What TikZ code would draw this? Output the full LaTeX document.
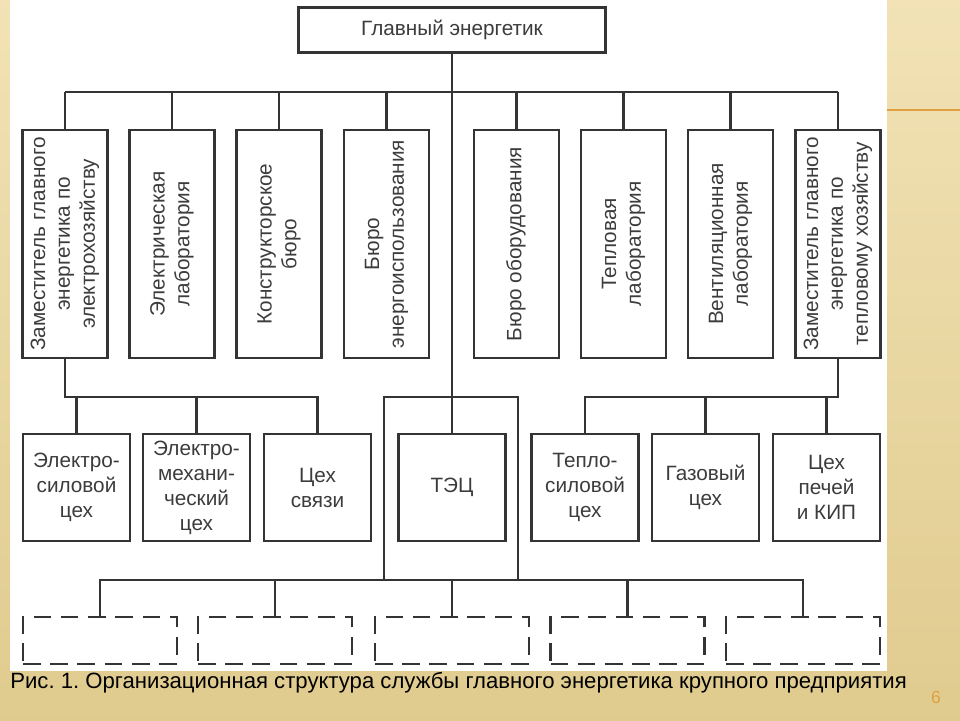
\documentclass[tikz,border=0pt]{standalone}
\usepackage{fontspec}
\setmainfont{Liberation Sans}
\usepackage{graphicx}
\usepackage{tikz}
\usetikzlibrary{calc}
\frenchspacing
\definecolor{bgc}{RGB}{236,214,150}
\definecolor{linec}{RGB}{52,52,52}
\definecolor{textc}{RGB}{60,60,60}
\definecolor{orc}{RGB}{224,160,64}
\newcommand{\vlines}[1]{\rotatebox{90}{\begin{tabular}{@{}c@{}}#1\end{tabular}}}
\tikzset{
  unit/.style={draw=linec, line width=1.4pt, fill=white, inner sep=0pt, text=textc,
    align=center, font=\fontsize{11.8}{14.2}\selectfont},
  vbox/.style={unit, minimum width=1.7cm, minimum height=4.56cm},
  hbox/.style={unit, minimum width=2.14cm, minimum height=2.14cm},
  gapbox/.style={draw=linec, line width=1.6pt, dash pattern=on 10pt off 5.5pt,
    minimum width=3.08cm, minimum height=0.94cm, inner sep=0pt},
  link/.style={draw=linec, line width=1.4pt}
}
\begin{document}
\begin{tikzpicture}[x=0.02cm, y=-0.02cm]
  \useasboundingbox (0,0) rectangle (960,720);
  \shade[top color=bgc!70!white, bottom color=bgc!95!black] (0,0) rectangle (960,720);
  \fill[white] (10,0) rectangle (887,671);
  \draw[orc, line width=1.2pt] (887,110) -- (960,110);

  \node[unit, minimum width=6.14cm, minimum height=0.9cm] (head) at (452,30) {Главный энергетик};

  \node[vbox] (zel)  at (65,244)    {\vlines{Заместитель главного\\ энергетика по\\ электрохозяйству}};
  \node[vbox] (elab) at (172,244)   {\vlines{Электрическая\\ лаборатория}};
  \node[vbox] (kb)   at (279,244)   {\vlines{Конструкторское\\ бюро}};
  \node[vbox] (beu)  at (386.5,244) {\vlines{Бюро\\ энергоиспользования}};
  \node[vbox] (bob)  at (516.5,244) {\vlines{Бюро оборудования}};
  \node[vbox] (tlab) at (623.5,244) {\vlines{Тепловая\\ лаборатория}};
  \node[vbox] (vlab) at (730.5,244) {\vlines{Вентиляционная\\ лаборатория}};
  \node[vbox] (zteh) at (838,244)   {\vlines{Заместитель главного\\ энергетика по\\ тепловому хозяйству}};

  \node[hbox] (esc) at (76.5,487.5)  {Электро-\\силовой\\цех};
  \node[hbox] (emc) at (196.5,487.5) {Электро-\\механи-\\ческий\\цех};
  \node[hbox] (svc) at (317.5,487.5) {Цех\\связи};
  \node[hbox] (tec) at (452,487.5)   {ТЭЦ};
  \node[hbox] (tsc) at (585,487.5)   {Тепло-\\силовой\\цех};
  \node[hbox] (gc)  at (705.5,487.5) {Газовый\\цех};
  \node[hbox] (pk)  at (826.5,487.5) {Цех\\печей\\и КИП};

  \node[gapbox] (gapa) at (100,640.5)   {};
  \node[gapbox] (gapb) at (275,640.5)   {};
  \node[gapbox] (gapc) at (452,640.5)   {};
  \node[gapbox] (gapd) at (627.5,640.5) {};
  \node[gapbox] (gape) at (803,640.5)   {};

  \coordinate (busT) at (0,92);
  \coordinate (busM) at (0,397);
  \coordinate (busB) at (0,580);
  \coordinate (brL) at (384,580);
  \coordinate (brR) at (518,580);

  \draw[link] (head.south) -- (tec.north);
  \draw[link] (zel.north |- busT) -- (zteh.north |- busT);
  \foreach \n in {zel,elab,kb,beu,bob,tlab,vlab,zteh}
    \draw[link] (\n.north) -- (\n.north |- busT);

  \draw[link] (zel.south) |- (svc.north |- busM) -- (svc.north);
  \foreach \n in {esc,emc}
    \draw[link] (\n.north) -- (\n.north |- busM);
  \draw[link] (zteh.south) |- (tsc.north |- busM) -- (tsc.north);
  \foreach \n in {gc,pk}
    \draw[link] (\n.north) -- (\n.north |- busM);

  \draw[link] (brL) |- (brR |- busM) -- (brR);
  \draw[link] (gapa.north) |- (gape.north |- busB) -- (gape.north);
  \foreach \n in {gapb,gapc,gapd}
    \draw[link] (\n.north) -- (\n.north |- busB);

  \node[anchor=west, inner sep=0pt, font=\fontsize{12.6}{15}\selectfont] (cap) at (10,683)
    {Рис. 1. Организационная структура службы главного энергетика крупного предприятия};
  \node[text=orc, font=\fontsize{10}{12}\selectfont] (pnum) at (936,697) {6};
\end{tikzpicture}
\end{document}
